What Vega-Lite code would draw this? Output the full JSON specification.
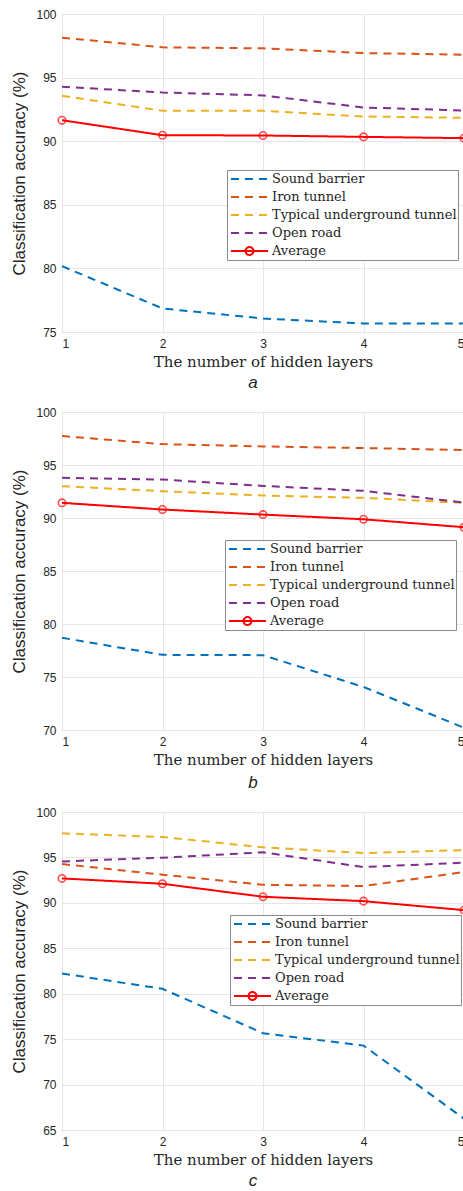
{
  "$schema": "https://vega.github.io/schema/vega-lite/v6.json",
  "padding": {"left": 10, "top": 7, "right": 0, "bottom": 0},
  "background": "white",
  "spacing": 13,
  "config": {
    "view": {"stroke": "#8a8a8a", "strokeWidth": 1},
    "axis": {
      "labelFont": "Liberation Sans",
      "labelFontSize": 12,
      "labelColor": "#262626",
      "titleColor": "#262626",
      "gridColor": "#e6e6e6",
      "gridWidth": 1,
      "domain": false,
      "ticks": false
    },
    "axisX": {
      "labelPadding": 6,
      "titleFont": "DejaVu Serif",
      "titleFontSize": 15,
      "titleFontWeight": "normal",
      "titlePadding": 5
    },
    "axisY": {
      "labelPadding": 6,
      "titleFont": "Liberation Sans",
      "titleFontSize": 17,
      "titleFontWeight": "normal",
      "titlePadding": 7
    },
    "legend": {
      "orient": "none",
      "title": null,
      "fillColor": "white",
      "strokeColor": "#8a8a8a",
      "padding": 1,
      "labelFont": "DejaVu Serif",
      "labelFontSize": 13,
      "labelColor": "#262626",
      "labelLimit": 400,
      "labelOffset": 3,
      "symbolOffset": 25,
      "rowPadding": 3,
      "symbolType": "M-4.29,0H1",
      "symbolSize": 196,
      "symbolStrokeWidth": 2,
      "symbolFillColor": "transparent"
    },
    "title": {
      "orient": "bottom",
      "font": "Liberation Sans",
      "fontSize": 17,
      "fontStyle": "italic",
      "fontWeight": "normal",
      "color": "#262626",
      "offset": 6,
      "dx": -10
    }
  },
  "datasets": {
    "a": [
      {"x": 1, "series": "Sound barrier", "acc": 80.18},
      {"x": 2, "series": "Sound barrier", "acc": 76.85},
      {"x": 3, "series": "Sound barrier", "acc": 76.06},
      {"x": 4, "series": "Sound barrier", "acc": 75.67},
      {"x": 5, "series": "Sound barrier", "acc": 75.67},
      {"x": 1, "series": "Iron tunnel", "acc": 98.14},
      {"x": 2, "series": "Iron tunnel", "acc": 97.38},
      {"x": 3, "series": "Iron tunnel", "acc": 97.3},
      {"x": 4, "series": "Iron tunnel", "acc": 96.93},
      {"x": 5, "series": "Iron tunnel", "acc": 96.8},
      {"x": 1, "series": "Typical underground tunnel", "acc": 93.57},
      {"x": 2, "series": "Typical underground tunnel", "acc": 92.39},
      {"x": 3, "series": "Typical underground tunnel", "acc": 92.39},
      {"x": 4, "series": "Typical underground tunnel", "acc": 91.94},
      {"x": 5, "series": "Typical underground tunnel", "acc": 91.84},
      {"x": 1, "series": "Open road", "acc": 94.28},
      {"x": 2, "series": "Open road", "acc": 93.83},
      {"x": 3, "series": "Open road", "acc": 93.6},
      {"x": 4, "series": "Open road", "acc": 92.65},
      {"x": 5, "series": "Open road", "acc": 92.41},
      {"x": 1, "series": "Average", "acc": 91.65},
      {"x": 2, "series": "Average", "acc": 90.47},
      {"x": 3, "series": "Average", "acc": 90.45},
      {"x": 4, "series": "Average", "acc": 90.34},
      {"x": 5, "series": "Average", "acc": 90.24}
    ],
    "b": [
      {"x": 1, "series": "Sound barrier", "acc": 78.7},
      {"x": 2, "series": "Sound barrier", "acc": 77.09},
      {"x": 3, "series": "Sound barrier", "acc": 77.06},
      {"x": 4, "series": "Sound barrier", "acc": 74.06},
      {"x": 5, "series": "Sound barrier", "acc": 70.22},
      {"x": 1, "series": "Iron tunnel", "acc": 97.73},
      {"x": 2, "series": "Iron tunnel", "acc": 96.97},
      {"x": 3, "series": "Iron tunnel", "acc": 96.75},
      {"x": 4, "series": "Iron tunnel", "acc": 96.6},
      {"x": 5, "series": "Iron tunnel", "acc": 96.41},
      {"x": 1, "series": "Typical underground tunnel", "acc": 93.0},
      {"x": 2, "series": "Typical underground tunnel", "acc": 92.53},
      {"x": 3, "series": "Typical underground tunnel", "acc": 92.12},
      {"x": 4, "series": "Typical underground tunnel", "acc": 91.9},
      {"x": 5, "series": "Typical underground tunnel", "acc": 91.43},
      {"x": 1, "series": "Open road", "acc": 93.79},
      {"x": 2, "series": "Open road", "acc": 93.63},
      {"x": 3, "series": "Open road", "acc": 93.03},
      {"x": 4, "series": "Open road", "acc": 92.56},
      {"x": 5, "series": "Open road", "acc": 91.46},
      {"x": 1, "series": "Average", "acc": 91.43},
      {"x": 2, "series": "Average", "acc": 90.8},
      {"x": 3, "series": "Average", "acc": 90.32},
      {"x": 4, "series": "Average", "acc": 89.88},
      {"x": 5, "series": "Average", "acc": 89.13}
    ],
    "c": [
      {"x": 1, "series": "Sound barrier", "acc": 82.23},
      {"x": 2, "series": "Sound barrier", "acc": 80.54},
      {"x": 3, "series": "Sound barrier", "acc": 75.65},
      {"x": 4, "series": "Sound barrier", "acc": 74.29},
      {"x": 5, "series": "Sound barrier", "acc": 66.25},
      {"x": 1, "series": "Iron tunnel", "acc": 94.27},
      {"x": 2, "series": "Iron tunnel", "acc": 93.1},
      {"x": 3, "series": "Iron tunnel", "acc": 91.99},
      {"x": 4, "series": "Iron tunnel", "acc": 91.85},
      {"x": 5, "series": "Iron tunnel", "acc": 93.39},
      {"x": 1, "series": "Typical underground tunnel", "acc": 97.65},
      {"x": 2, "series": "Typical underground tunnel", "acc": 97.25},
      {"x": 3, "series": "Typical underground tunnel", "acc": 96.11},
      {"x": 4, "series": "Typical underground tunnel", "acc": 95.48},
      {"x": 5, "series": "Typical underground tunnel", "acc": 95.81},
      {"x": 1, "series": "Open road", "acc": 94.56},
      {"x": 2, "series": "Open road", "acc": 94.97},
      {"x": 3, "series": "Open road", "acc": 95.56},
      {"x": 4, "series": "Open road", "acc": 93.94},
      {"x": 5, "series": "Open road", "acc": 94.42},
      {"x": 1, "series": "Average", "acc": 92.69},
      {"x": 2, "series": "Average", "acc": 92.1},
      {"x": 3, "series": "Average", "acc": 90.67},
      {"x": 4, "series": "Average", "acc": 90.19},
      {"x": 5, "series": "Average", "acc": 89.2}
    ]
  },
  "resolve": {
    "scale": {"y": "independent", "color": "independent", "strokeDash": "independent"},
    "legend": {"color": "independent", "strokeDash": "independent"}
  },
  "vconcat": [
    {
      "title": {"text": "a"},
      "width": 402,
      "height": 318,
      "data": {"name": "a"},
      "layer": [
        {
          "mark": {"type": "line", "strokeWidth": 2},
          "encoding": {
            "x": {"field": "x", "type": "quantitative", "scale": {"domain": [1, 5]}, "axis": {"values": [1, 2, 3, 4, 5], "format": "d", "title": "The number of hidden layers"}},
            "y": {"field": "acc", "type": "quantitative", "scale": {"domain": [75, 100], "nice": false, "zero": false}, "axis": {"values": [75, 80, 85, 90, 95, 100], "title": "Classification accuracy (%)"}},
            "color": {"field": "series", "type": "nominal", "scale": {"domain": ["Sound barrier", "Iron tunnel", "Typical underground tunnel", "Open road", "Average"], "range": ["#0072BD", "#D95319", "#EDB120", "#7E2F8E", "#FF0000"]}, "legend": {"orient": "none", "legendX": 165, "legendY": 156, "title": null, "encode": {"symbols": {"update": {"shape": {"signal": "datum.value === 'Average' ? 'M-4.29,0H1M-1.075,0A0.57,0.57,0,1,1,-2.215,0A0.57,0.57,0,1,1,-1.075,0' : 'M-4.29,0H1'"}}}}}},
            "strokeDash": {"field": "series", "type": "nominal", "scale": {"domain": ["Sound barrier", "Iron tunnel", "Typical underground tunnel", "Open road", "Average"], "range": [[8, 6], [8, 6], [8, 6], [8, 6], [1, 0]]}, "legend": {"orient": "none", "legendX": 165, "legendY": 156, "title": null}}
          }
        },
        {
          "transform": [{"filter": "datum.series === 'Average'"}],
          "mark": {"type": "point", "shape": "circle", "filled": false, "color": "#FF0000", "size": 55, "strokeWidth": 1.6},
          "encoding": {
            "x": {"field": "x", "type": "quantitative"},
            "y": {"field": "acc", "type": "quantitative"}
          }
        }
      ]
    },
    {
      "title": {"text": "b", "offset": 8},
      "width": 402,
      "height": 318,
      "data": {"name": "b"},
      "layer": [
        {
          "mark": {"type": "line", "strokeWidth": 2},
          "encoding": {
            "x": {"field": "x", "type": "quantitative", "scale": {"domain": [1, 5]}, "axis": {"values": [1, 2, 3, 4, 5], "format": "d", "title": "The number of hidden layers"}},
            "y": {"field": "acc", "type": "quantitative", "scale": {"domain": [70, 100], "nice": false, "zero": false}, "axis": {"values": [70, 75, 80, 85, 90, 95, 100], "title": "Classification accuracy (%)"}},
            "color": {"field": "series", "type": "nominal", "scale": {"domain": ["Sound barrier", "Iron tunnel", "Typical underground tunnel", "Open road", "Average"], "range": ["#0072BD", "#D95319", "#EDB120", "#7E2F8E", "#FF0000"]}, "legend": {"orient": "none", "legendX": 163, "legendY": 128, "title": null, "encode": {"symbols": {"update": {"shape": {"signal": "datum.value === 'Average' ? 'M-4.29,0H1M-1.075,0A0.57,0.57,0,1,1,-2.215,0A0.57,0.57,0,1,1,-1.075,0' : 'M-4.29,0H1'"}}}}}},
            "strokeDash": {"field": "series", "type": "nominal", "scale": {"domain": ["Sound barrier", "Iron tunnel", "Typical underground tunnel", "Open road", "Average"], "range": [[8, 6], [8, 6], [8, 6], [8, 6], [1, 0]]}, "legend": {"orient": "none", "legendX": 163, "legendY": 128, "title": null}}
          }
        },
        {
          "transform": [{"filter": "datum.series === 'Average'"}],
          "mark": {"type": "point", "shape": "circle", "filled": false, "color": "#FF0000", "size": 55, "strokeWidth": 1.6},
          "encoding": {
            "x": {"field": "x", "type": "quantitative"},
            "y": {"field": "acc", "type": "quantitative"}
          }
        }
      ]
    },
    {
      "title": {"text": "c"},
      "width": 402,
      "height": 318,
      "data": {"name": "c"},
      "layer": [
        {
          "mark": {"type": "line", "strokeWidth": 2},
          "encoding": {
            "x": {"field": "x", "type": "quantitative", "scale": {"domain": [1, 5]}, "axis": {"values": [1, 2, 3, 4, 5], "format": "d", "title": "The number of hidden layers"}},
            "y": {"field": "acc", "type": "quantitative", "scale": {"domain": [65, 100], "nice": false, "zero": false}, "axis": {"values": [65, 70, 75, 80, 85, 90, 95, 100], "title": "Classification accuracy (%)"}},
            "color": {"field": "series", "type": "nominal", "scale": {"domain": ["Sound barrier", "Iron tunnel", "Typical underground tunnel", "Open road", "Average"], "range": ["#0072BD", "#D95319", "#EDB120", "#7E2F8E", "#FF0000"]}, "legend": {"orient": "none", "legendX": 168, "legendY": 103, "title": null, "encode": {"symbols": {"update": {"shape": {"signal": "datum.value === 'Average' ? 'M-4.29,0H1M-1.075,0A0.57,0.57,0,1,1,-2.215,0A0.57,0.57,0,1,1,-1.075,0' : 'M-4.29,0H1'"}}}}}},
            "strokeDash": {"field": "series", "type": "nominal", "scale": {"domain": ["Sound barrier", "Iron tunnel", "Typical underground tunnel", "Open road", "Average"], "range": [[8, 6], [8, 6], [8, 6], [8, 6], [1, 0]]}, "legend": {"orient": "none", "legendX": 168, "legendY": 103, "title": null}}
          }
        },
        {
          "transform": [{"filter": "datum.series === 'Average'"}],
          "mark": {"type": "point", "shape": "circle", "filled": false, "color": "#FF0000", "size": 55, "strokeWidth": 1.6},
          "encoding": {
            "x": {"field": "x", "type": "quantitative"},
            "y": {"field": "acc", "type": "quantitative"}
          }
        }
      ]
    }
  ]
}
